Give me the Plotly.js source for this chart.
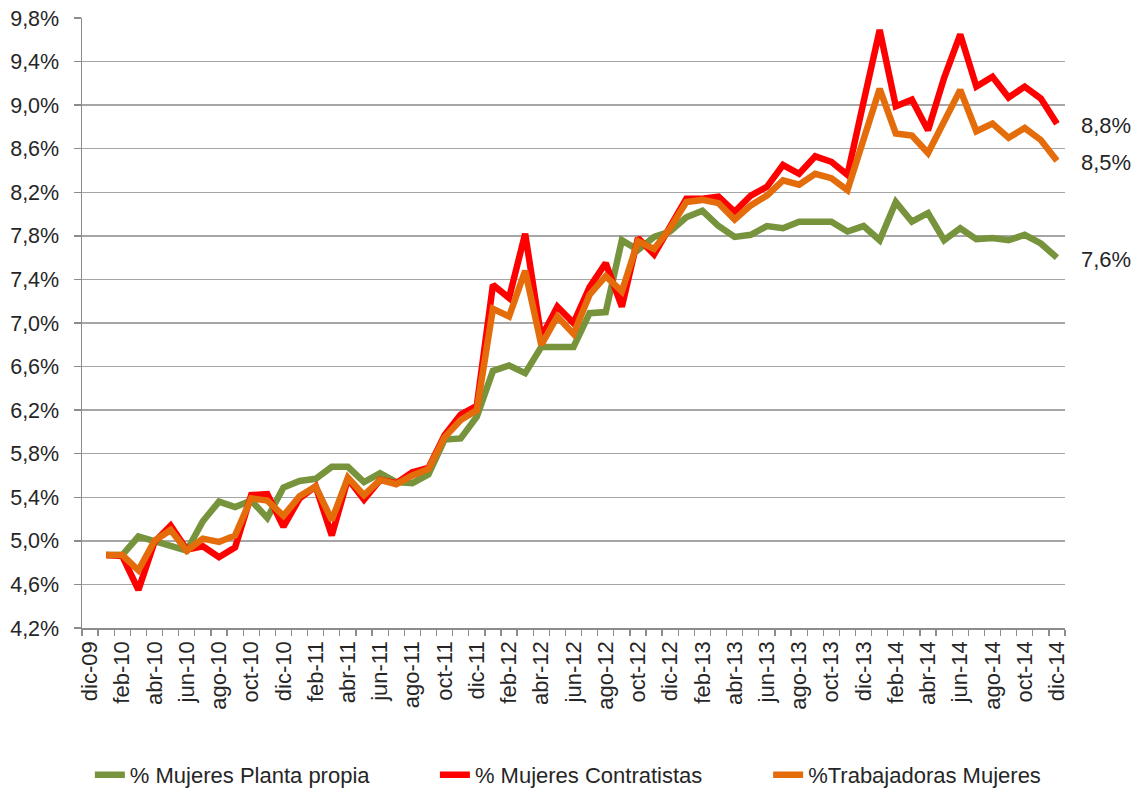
<!DOCTYPE html>
<html>
<head>
<meta charset="utf-8">
<script src="https://cdn.plot.ly/plotly-3.0.1.min.js"></script>
<style>
html,body{margin:0;padding:0;background:#fff;}
#chart{width:1144px;height:798px;}
</style>
</head>
<body>
<div id="chart"></div>
<script>
const categories = [
  "dic-09",
  "ene-10","feb-10","mar-10","abr-10","may-10","jun-10","jul-10","ago-10","sep-10","oct-10","nov-10","dic-10",
  "ene-11","feb-11","mar-11","abr-11","may-11","jun-11","jul-11","ago-11","sep-11","oct-11","nov-11","dic-11",
  "ene-12","feb-12","mar-12","abr-12","may-12","jun-12","jul-12","ago-12","sep-12","oct-12","nov-12","dic-12",
  "ene-13","feb-13","mar-13","abr-13","may-13","jun-13","jul-13","ago-13","sep-13","oct-13","nov-13","dic-13",
  "ene-14","feb-14","mar-14","abr-14","may-14","jun-14","jul-14","ago-14","sep-14","oct-14","nov-14","dic-14"
];

const plantaPropia = [
  null,
  4.87,4.87,5.04,5.00,4.96,4.91,5.18,5.36,5.31,5.37,5.21,5.49,
  5.55,5.57,5.68,5.68,5.54,5.62,5.54,5.53,5.61,5.93,5.94,6.14,
  6.56,6.61,6.54,6.78,6.78,6.78,7.09,7.10,7.76,7.67,7.79,7.84,
  7.97,8.03,7.89,7.79,7.81,7.89,7.87,7.93,7.93,7.93,7.84,7.89,
  7.76,8.11,7.93,8.01,7.76,7.87,7.77,7.78,7.76,7.81,7.73,7.60
];

const contratistas = [
  null,
  4.87,4.86,4.55,4.99,5.14,4.92,4.95,4.85,4.94,5.42,5.43,5.13,
  5.39,5.50,5.05,5.57,5.38,5.56,5.53,5.63,5.67,5.97,6.16,6.24,
  7.35,7.23,7.82,6.87,7.15,7.00,7.33,7.55,7.15,7.78,7.63,7.88,
  8.14,8.14,8.16,8.02,8.17,8.25,8.45,8.37,8.53,8.48,8.36,9.03,
  9.69,8.99,9.05,8.77,9.25,9.65,9.17,9.26,9.07,9.17,9.06,8.83
];

const trabajadoras = [
  null,
  4.87,4.87,4.73,5.00,5.10,4.91,5.02,4.99,5.05,5.39,5.37,5.23,
  5.41,5.50,5.19,5.58,5.42,5.56,5.52,5.60,5.66,5.95,6.11,6.20,
  7.13,7.06,7.48,6.80,7.06,6.90,7.26,7.43,7.29,7.75,7.68,7.87,
  8.11,8.13,8.10,7.95,8.08,8.17,8.31,8.27,8.37,8.33,8.22,8.69,
  9.15,8.74,8.72,8.56,8.86,9.14,8.76,8.83,8.70,8.79,8.68,8.49
];

const seriesNames = ["% Mujeres Planta propia", "% Mujeres Contratistas", "%Trabajadoras Mujeres"];
const seriesColors = ["#77933C", "#FF0000", "#E46C0A"];
const seriesData = [plantaPropia, contratistas, trabajadoras];
const legendIds = ["legend", "legend2", "legend3"];

const FONT = "Liberation Sans, Arial, sans-serif";
const TXT = "#262626";

const traces = seriesData.map((d, k) => ({
  type: "scatter",
  mode: "lines",
  x: categories,
  y: d,
  name: seriesNames[k],
  legend: legendIds[k],
  line: {color: seriesColors[k], width: 6.5, shape: "linear"},
  connectgaps: false,
  hoverinfo: "skip"
}));

const tickText = categories.map((c, i) => (i % 2 === 0 ? c : ""));

const fmt = v => v.toFixed(1).replace(".", ",") + "%";
const lastIdx = categories.length - 1;
const annotations = seriesData.map((d, k) => ({
  x: categories[lastIdx],
  y: d[lastIdx],
  xref: "x",
  yref: "y",
  text: fmt(d[lastIdx]),
  showarrow: false,
  xanchor: "left",
  yanchor: "middle",
  xshift: 22,
  yshift: -2,
  font: {family: FONT, size: 22, color: TXT}
}));

function legendAt(xPaper) {
  return {
    orientation: "h",
    xref: "paper",
    x: xPaper,
    xanchor: "left",
    yref: "container",
    y: 0.029,
    yanchor: "middle",
    font: {family: FONT, size: 22, color: TXT},
    bgcolor: "rgba(0,0,0,0)"
  };
}

const layout = {
  width: 1144,
  height: 798,
  paper_bgcolor: "#ffffff",
  plot_bgcolor: "#ffffff",
  separators: ",.",
  margin: {l: 82, r: 79, t: 18, b: 170, autoexpand: false},
  font: {family: FONT, size: 21, color: TXT},
  showlegend: true,
  legend: legendAt(0.008),
  legend2: legendAt(0.359),
  legend3: legendAt(0.698),
  xaxis: {
    type: "category",
    categoryorder: "array",
    categoryarray: categories,
    range: [-0.5, categories.length - 0.5],
    tickmode: "array",
    tickvals: categories,
    ticktext: tickText,
    tickson: "boundaries",
    ticks: "outside",
    ticklen: 6,
    tickwidth: 1.3,
    tickcolor: "#8c8c8c",
    tickangle: -90,
    ticklabelstandoff: 3,
    showgrid: false,
    zeroline: false,
    showline: true,
    linecolor: "#8c8c8c",
    linewidth: 1.5,
    automargin: false,
    tickfont: {family: FONT, size: 22, color: TXT},
    fixedrange: true
  },
  yaxis: {
    range: [4.2, 9.8],
    tick0: 4.2,
    dtick: 0.4,
    tickformat: ".1f",
    ticksuffix: "%",
    ticks: "outside",
    ticklen: 7,
    tickwidth: 1.3,
    tickcolor: "#8c8c8c",
    ticklabelstandoff: 10,
    showgrid: true,
    gridcolor: "#a6a6a6",
    gridwidth: 1.5,
    zeroline: false,
    showline: true,
    linecolor: "#8c8c8c",
    linewidth: 1.5,
    automargin: false,
    tickfont: {family: FONT, size: 21.5, color: TXT},
    fixedrange: true
  },
  annotations: annotations
};

Plotly.newPlot("chart", traces, layout, {staticPlot: true, displayModeBar: false});
</script>
</body>
</html>
